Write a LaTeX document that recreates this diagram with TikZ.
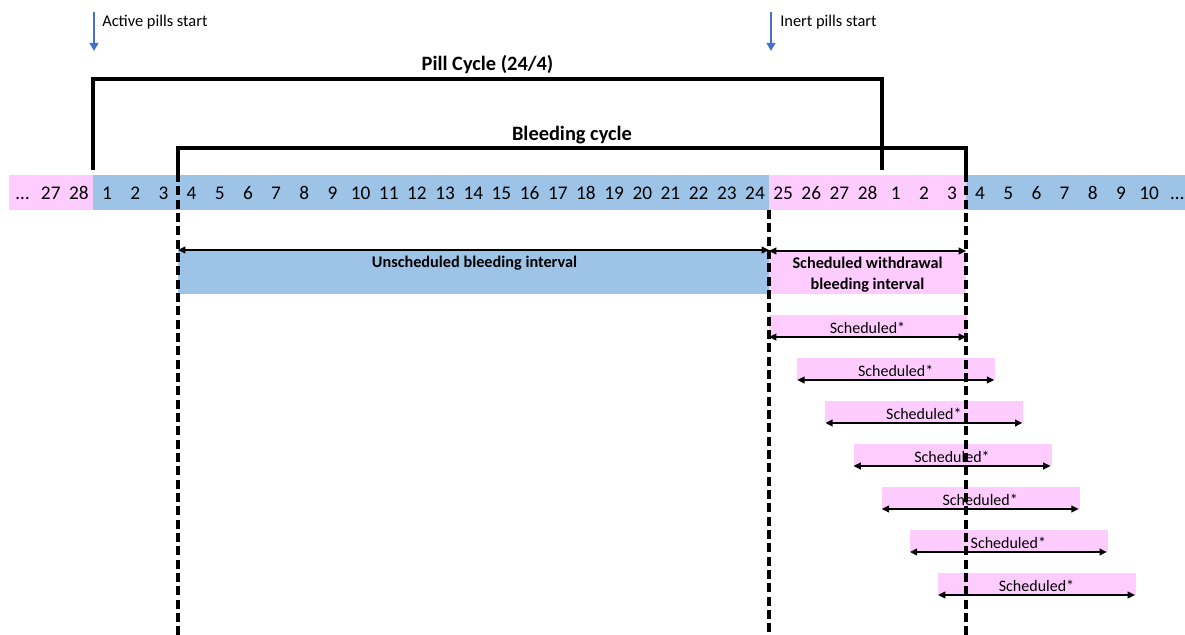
\documentclass[tikz,border=0pt]{standalone}
\usepackage{fontspec}
\setmainfont{Carlito}
\usetikzlibrary{arrows.meta}
\definecolor{pinkc}{HTML}{FFCCFF}
\definecolor{bluec}{HTML}{9DC3E6}
\definecolor{arrowblue}{HTML}{4472C4}
\tikzset{
  daynum/.style={inner sep=0pt, anchor=base, font=\fontsize{14.5}{16}\selectfont},
  note/.style={inner sep=0pt, anchor=base west, font=\fontsize{12.3}{14}\selectfont},
  title/.style={inner sep=0pt, anchor=base, font=\fontsize{15.3}{17}\selectfont\bfseries},
  boldlab/.style={inner sep=0pt, anchor=base, font=\fontsize{12.2}{15}\selectfont\bfseries},
  schedlab/.style={inner sep=0pt, anchor=base, font=\fontsize{12}{14}\selectfont},
  bracket/.style={line width=2.3pt},
  vdash/.style={line width=2.4pt, dash pattern=on 6.8pt off 3.2pt},
  dblarrow/.style={line width=1.4pt, {Triangle[length=5.5pt,width=5pt]}-{Triangle[length=5.5pt,width=5pt]}},
  startarrow/.style={line width=2pt, arrowblue, -{Triangle[length=6pt,width=6.5pt]}}
}
\begin{document}
\begin{tikzpicture}[x=0.75pt,y=-0.75pt]
\useasboundingbox (0,0) rectangle (1185,635);
\def\w{28.17}
% strip
\fill[pinkc] (8.5,175) rectangle (93,210);
\fill[bluec] (93,175) rectangle (769,210);
\fill[pinkc] (769,175) rectangle (966,210);
\fill[bluec] (966,175) rectangle (1185,210);
% left cells
\node[daynum] (L1) at ({8.5+0.5*\w},199.5) {…};
\node[daynum] (L2) at ({8.5+1.5*\w},199.5) {27};
\node[daynum] (L3) at ({8.5+2.5*\w},199.5) {28};
\foreach \k in {1,...,24}{
  \node[daynum] (A\k) at ({93+(\k-0.5)*\w},199.5) {\k};
}
\foreach \t [count=\j] in {25,26,27,28,1,2,3}{
  \node[daynum] (B\j) at ({769+(\j-0.5)*\w},199.5) {\t};
}
\foreach \t [count=\j] in {4,5,6,7,8,9,10,…}{
  \node[daynum] (C\j) at ({966+(\j-0.5)*\w},199.5) {\t};
}
% interval boxes
\fill[bluec] (178,250) rectangle (769,294);
\fill[pinkc] (769,250) rectangle (966,294);
\foreach \i in {0,...,6}{
  \fill[pinkc] ({769+\i*\w},{315+43*\i}) rectangle ({967+\i*\w},{337+43*\i});
}
% start arrows
\coordinate (as1) at (94,12); \coordinate (as2) at (94,51);
\draw[startarrow] (as1) -- (as2);
\node[note] (activelab) at (102,27) {Active pills start};
\coordinate (is1) at (771,12); \coordinate (is2) at (771,51);
\draw[startarrow] (is1) -- (is2);
\node[note] (inertlab) at (780,27) {Inert pills start};
% pill cycle bracket
\coordinate (p1) at (93,170); \coordinate (p2) at (882,170);
\draw[bracket] (p1) |- (487,79) -| (p2);
\node[title] (pilltitle) at (487.5,71) {Pill Cycle (24/4)};
% bleeding cycle bracket
\coordinate (b1) at (178,173); \coordinate (b2) at (966,173);
\draw[bracket] (b1) |- (572,148) -| (b2);
\node[title] (bleedtitle) at (572,140.5) {Bleeding cycle};
% dashed verticals
\coordinate (d1t) at (178,173); \coordinate (d1b) at (178,640);
\coordinate (d2t) at (769,210); \coordinate (d2b) at (769,640);
\coordinate (d3t) at (966,173); \coordinate (d3b) at (966,640);
\draw[vdash] (d1t) -- (d1b);
\draw[vdash] (d2t) -- (d2b);
\draw[vdash] (d3t) -- (d3b);
% interval arrows and labels
\coordinate (u1) at (178,250); \coordinate (u2) at (769,250);
\draw[dblarrow] (u1) -- (u2);
\node[boldlab] (unsched) at (474.5,267) {Unscheduled bleeding interval};
\coordinate (s1) at (769,251); \coordinate (s2) at (966,251);
\draw[dblarrow] (s1) -- (s2);
\node[boldlab] (sched1) at (867.5,268.5) {Scheduled withdrawal};
\node[boldlab] (sched2) at (867.5,289.5) {bleeding interval};
\foreach \i in {0,...,6}{
  \coordinate (r\i a) at ({769+\i*\w},{337+43*\i});
  \coordinate (r\i b) at ({966+\i*\w},{337+43*\i});
  \draw[dblarrow] (r\i a) -- (r\i b);
  \node[schedlab] (lab\i) at ({867.5+\i*\w},{333+43*\i}) {Scheduled*};
}
\end{tikzpicture}
\end{document}
